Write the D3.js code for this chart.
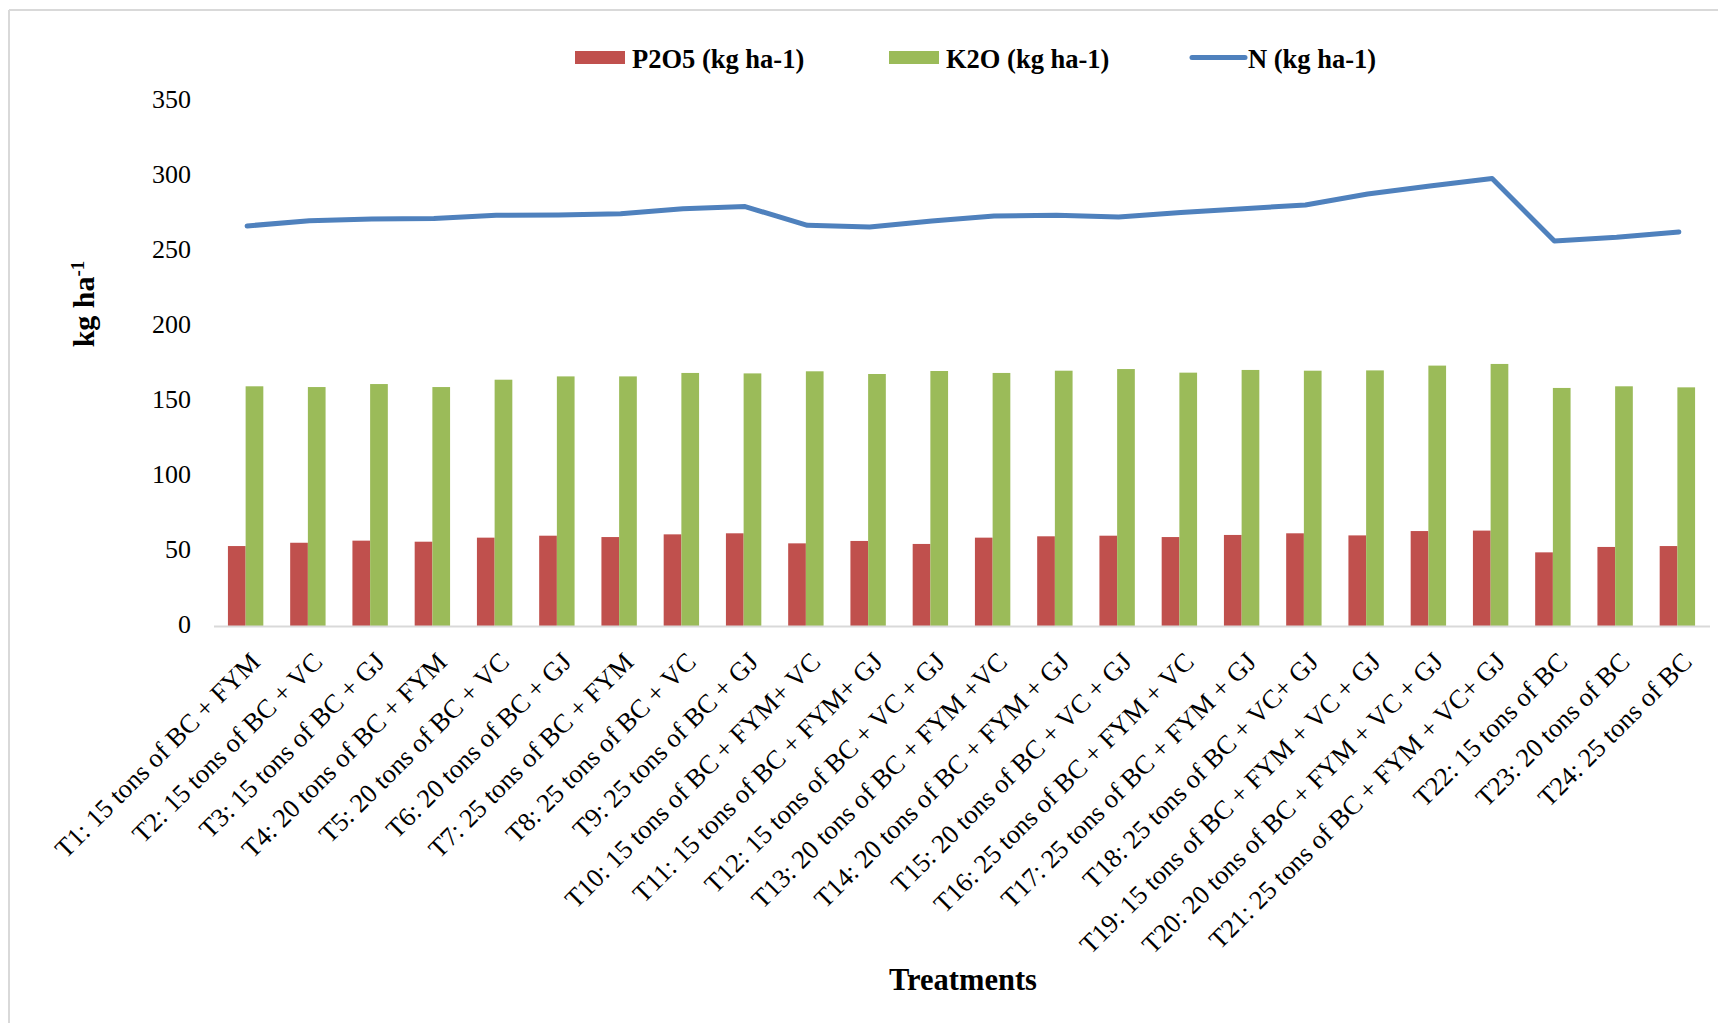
<!DOCTYPE html>
<html>
<head>
<meta charset="utf-8">
<script src="https://cdn.jsdelivr.net/npm/d3@7"></script>
<style>
  html, body { margin: 0; padding: 0; background: #ffffff; }
  svg { display: block; }
  text { font-family: "Liberation Serif", "Times New Roman", serif; fill: #000; }
</style>
</head>
<body>
<svg id="chart" width="1718" height="1023"></svg>
<script>
// Treatments (x categories)
const categories = [
  "T1: 15 tons of BC + FYM",
  "T2: 15 tons of BC + VC",
  "T3: 15 tons of BC + GJ",
  "T4: 20 tons of BC + FYM",
  "T5: 20 tons of BC + VC",
  "T6: 20 tons of BC + GJ",
  "T7: 25 tons of BC + FYM",
  "T8: 25 tons of BC + VC",
  "T9: 25 tons of BC + GJ",
  "T10: 15 tons of BC + FYM+ VC",
  "T11: 15 tons of BC + FYM+ GJ",
  "T12: 15 tons of BC + VC + GJ",
  "T13: 20 tons of BC + FYM +VC",
  "T14: 20 tons of BC + FYM + GJ",
  "T15: 20 tons of BC + VC + GJ",
  "T16: 25 tons of BC + FYM + VC",
  "T17: 25 tons of BC + FYM + GJ",
  "T18: 25 tons of BC + VC+ GJ",
  "T19: 15 tons of BC + FYM + VC + GJ",
  "T20: 20 tons of BC + FYM + VC + GJ",
  "T21: 25 tons of BC + FYM + VC+ GJ",
  "T22: 15 tons of BC",
  "T23: 20 tons of BC",
  "T24: 25 tons of BC"
];

// Available P2O5 (kg ha-1)
const p2o5 = [53.3, 55.5, 56.9, 56.2, 58.9, 60.2, 59.3, 61.1, 61.8, 55.1, 56.7, 54.7,
              58.9, 59.8, 60.2, 59.3, 60.7, 61.8, 60.4, 63.3, 63.6, 49.1, 52.7, 53.3];

// Available K2O (kg ha-1)
const k2o = [159.8, 159.3, 161.3, 159.3, 164.2, 166.4, 166.4, 168.7, 168.4, 169.8, 168.0, 170.0,
             168.7, 170.2, 171.3, 168.9, 170.7, 170.2, 170.4, 173.6, 174.7, 158.7, 159.8, 159.1];

// Available N (kg ha-1)
const nitrogen = [266.7, 270.2, 271.3, 271.6, 273.8, 274.0, 274.9, 278.2, 279.6, 267.1, 266.0, 270.0,
                  273.3, 273.8, 272.7, 275.6, 278.2, 280.7, 288.0, 293.3, 298.4, 256.7, 259.1, 262.7];

const yTicks = [0, 50, 100, 150, 200, 250, 300, 350];

const seriesNames = ["P2O5 (kg ha-1)", "K2O (kg ha-1)", "N (kg ha-1)"];
const colors = { p: "#C0504D", k: "#9BBB59", n: "#4F81BD" };

const svg = d3.select("#chart");

// outer frame
svg.append("line").attr("x1", 9).attr("y1", 10).attr("x2", 9).attr("y2", 1023)
  .attr("stroke", "#D9D9D9").attr("stroke-width", 2);
svg.append("line").attr("x1", 9).attr("y1", 10).attr("x2", 1718).attr("y2", 10)
  .attr("stroke", "#D9D9D9").attr("stroke-width", 2);

const plot = { left: 216, right: 1710, top: 101, bottom: 626 };

const x = d3.scaleBand().domain(categories).range([plot.left, plot.right]).padding(0);
const y = d3.scaleLinear().domain([0, 350]).range([plot.bottom, plot.top]);

// two bars per treatment, side by side
const barW = 17.7;
const sub = d3.scaleBand().domain(["p", "k"])
  .range([x.bandwidth() / 2 - barW - 1.5, x.bandwidth() / 2 + barW - 1.5]).padding(0);

// y axis labels (no axis line)
const yAxis = svg.append("g")
  .attr("transform", `translate(${plot.left},0)`)
  .call(d3.axisLeft(y).tickValues(yTicks).tickSize(0).tickPadding(25).tickFormat(d3.format("d")));
yAxis.attr("font-family", null).attr("font-size", null);
yAxis.select(".domain").remove();
yAxis.selectAll("text")
  .attr("dy", "0.26em")
  .style("font-family", '"Liberation Serif", "Times New Roman", serif')
  .style("font-size", "26px").attr("fill", "#000");

// bars
const barData = categories.map((c, i) => ({ c, p: p2o5[i], k: k2o[i] }));
const groups = svg.append("g").selectAll("g").data(barData).join("g")
  .attr("transform", d => `translate(${x(d.c)},0)`);
groups.append("rect")
  .attr("x", sub("p")).attr("width", sub.bandwidth())
  .attr("y", d => y(d.p)).attr("height", d => y(0) - y(d.p))
  .attr("fill", colors.p);
groups.append("rect")
  .attr("x", sub("k")).attr("width", sub.bandwidth())
  .attr("y", d => y(d.k)).attr("height", d => y(0) - y(d.k))
  .attr("fill", colors.k);

// category axis line
svg.append("line")
  .attr("x1", plot.left - 2).attr("x2", plot.right)
  .attr("y1", y(0) + 0.5).attr("y2", y(0) + 0.5)
  .attr("stroke", "#D9D9D9").attr("stroke-width", 2);

// N line
const line = d3.line()
  .x((d, i) => x(categories[i]) + x.bandwidth() / 2)
  .y(d => y(d));
svg.append("path")
  .datum(nitrogen)
  .attr("d", line)
  .attr("fill", "none")
  .attr("stroke", colors.n)
  .attr("stroke-width", 5)
  .attr("stroke-linejoin", "round")
  .attr("stroke-linecap", "round");

// rotated category labels
svg.append("g").selectAll("text").data(categories).join("text")
  .attr("transform", d => `translate(${x(d) + x.bandwidth() / 2 + 8},657) rotate(-45)`)
  .attr("text-anchor", "end")
  .attr("dy", "0.35em")
  .style("font-size", "26.5px")
  .text(d => d);

// axis titles
svg.append("text")
  .attr("x", (plot.left + plot.right) / 2).attr("y", 990)
  .attr("text-anchor", "middle")
  .style("font-size", "30.5px").style("font-weight", "bold")
  .text("Treatments");

const yTitle = svg.append("text")
  .attr("transform", "translate(94,304) rotate(-90)")
  .attr("text-anchor", "middle")
  .style("font-size", "30px").style("font-weight", "bold");
yTitle.append("tspan").text("kg ha");
yTitle.append("tspan").attr("baseline-shift", "super").style("font-size", "19px").text("-1");

// legend
const legend = svg.append("g");
const legendItems = [
  { name: seriesNames[0], type: "rect", color: colors.p, x: 575 },
  { name: seriesNames[1], type: "rect", color: colors.k, x: 889 },
  { name: seriesNames[2], type: "line", color: colors.n, x: 1190 }
];
legendItems.forEach(it => {
  if (it.type === "rect") {
    legend.append("rect").attr("x", it.x).attr("y", 51).attr("width", 50).attr("height", 13)
      .attr("fill", it.color);
  } else {
    legend.append("line").attr("x1", it.x + 2).attr("x2", it.x + 55).attr("y1", 57.5).attr("y2", 57.5)
      .attr("stroke", it.color).attr("stroke-width", 5).attr("stroke-linecap", "round");
  }
  legend.append("text")
    .attr("x", it.type === "rect" ? it.x + 57 : it.x + 58)
    .attr("y", 68)
    .style("font-size", "26.5px").style("font-weight", "bold")
    .text(it.name);
});
</script>
</body>
</html>
